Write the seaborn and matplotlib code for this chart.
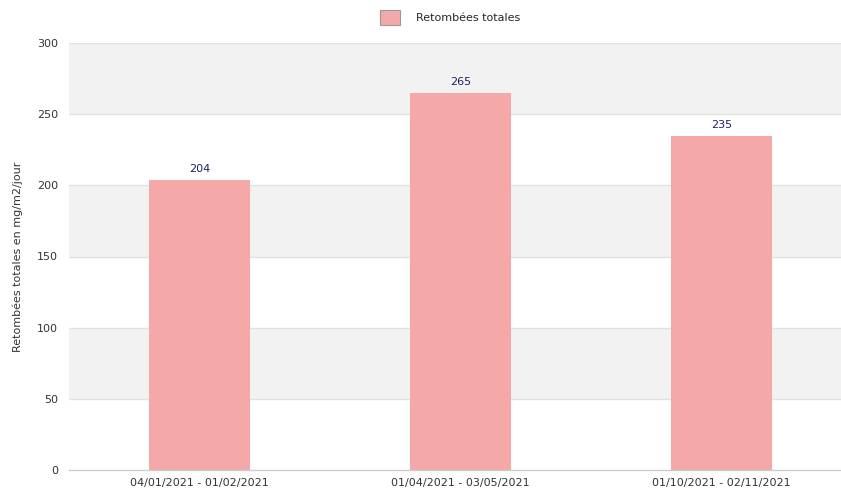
import pandas as pd
import numpy as np
import matplotlib.pyplot as plt
import seaborn as sns
from matplotlib.patches import Patch

# Data
periods = ['04/01/2021 - 01/02/2021', '01/04/2021 - 03/05/2021', '01/10/2021 - 02/11/2021']
retombees = [204, 265, 235]
y_ticks = [0, 50, 100, 150, 200, 250, 300]

df = pd.DataFrame({'periode': periods, 'valeur': retombees})

sns.set_theme(style='white')
plt.rcParams['font.family'] = ['DejaVu Sans']

bar_color = '#f4a8a8'

fig = plt.figure(figsize=(8.41, 5.01), dpi=100)
ax = fig.add_axes([69 / 841, 1 - 470 / 501, 783 / 841, 427 / 501])

# Alternating background bands
for lo in [50, 150, 250]:
    ax.axhspan(lo, lo + 50, color='#f2f2f2', zorder=0, lw=0)
for t in y_ticks[1:]:
    ax.axhline(t, color='#e2e2e2', lw=1, zorder=0.5)

sns.barplot(data=df, x='periode', y='valeur', color=bar_color, width=0.39,
            saturation=1, linewidth=0, ax=ax, zorder=2)

for i, v in enumerate(retombees):
    ax.text(i, v + 4, str(v), ha='center', va='bottom', fontsize=8, color='#1f1f6b')

ax.set_xlim(-0.5, 2.5)
ax.set_ylim(0, 300)
ax.set_yticks(y_ticks)
ax.set_yticklabels([str(t) for t in y_ticks], fontsize=8, color='#333333')
ax.tick_params(axis='x', labelsize=8, colors='#333333', length=0, pad=6)
ax.tick_params(axis='y', length=0, pad=8)
ax.set_xlabel('')
ax.set_ylabel('Retombées totales en mg/m2/jour', fontsize=8, color='#333333', labelpad=10)

for side in ['top', 'right', 'left']:
    ax.spines[side].set_visible(False)
ax.spines['bottom'].set_color('#cccccc')
ax.spines['bottom'].set_linewidth(1)

handle = Patch(facecolor=bar_color, edgecolor='#999999', linewidth=0.8)
fig.legend([handle], ['Retombées totales'], loc='center', bbox_to_anchor=(0.535, 0.965),
           frameon=False, fontsize=8, handlelength=1.8, handleheight=1.8, handletextpad=1.4)

fig.savefig('out.png', dpi=100)
